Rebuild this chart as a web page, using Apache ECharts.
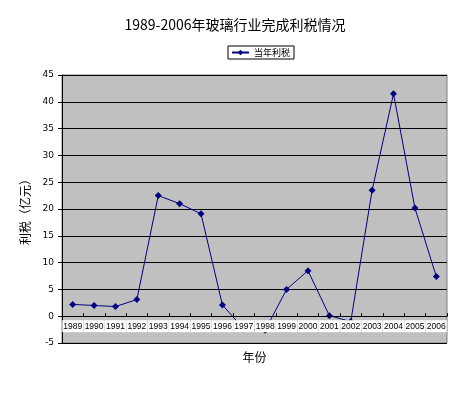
<!DOCTYPE html>
<html><head><meta charset="utf-8">
<script src="https://cdn.jsdelivr.net/npm/echarts@6/dist/echarts.min.js"></script>
<style>html,body{margin:0;padding:0;background:#fff}#c{width:470px;height:395px}</style>
</head><body><div id="c"></div>
<script>
var years = ['1989','1990','1991','1992','1993','1994','1995','1996','1997','1998','1999','2000','2001','2002','2003','2004','2005','2006'];
var profitTax = [2.2, 2.0, 1.8, 3.1, 22.5, 21.0, 19.1, 2.1, -2.4, -2.6, 5.0, 8.5, 0.1, -1.0, 23.5, 41.5, 20.2, 7.4];
var yTicks = [-5, 45, 5];
var titleText = '1989-2006年玻璃行业完成利税情况';
var seriesName = '当年利税';
var yName = '利税（亿元）';
var xName = '年份';

var chart = echarts.init(document.getElementById('c'), null, {renderer:'canvas'});
var fontCJK = '"Noto Sans CJK SC", "DejaVu Sans", sans-serif';
var option = {
  animation: false,
  title: {text: titleText, left: 'center', top: 13,
    textStyle: {fontSize: 14, fontWeight: 'normal', color: '#000', fontFamily: fontCJK}},
  legend: {data: [seriesName], top: 46, left: 228, borderColor: '#000', borderWidth: 1,
    padding: [2, 4, 2, 3], itemWidth: 17, itemHeight: 7, itemGap: 4,
    textStyle: {fontSize: 9, color: '#000', fontFamily: fontCJK}},
  grid: {left: 62, right: 23, top: 75, bottom: 52, show: true,
    backgroundColor: '#c0c0c0', borderColor: '#808080', borderWidth: 1},
  xAxis: {type: 'category', data: years, boundaryGap: true, z: 5,
    name: xName, nameLocation: 'middle', nameGap: 35, offset: 0,
    nameTextStyle: {fontSize: 12, color: '#000', fontFamily: fontCJK},
    axisLine: {onZero: false, lineStyle: {color: '#000', width: 1}},
    axisTick: {show: true, inside: true, length: 3, lineStyle: {color: '#000'}},
    axisLabel: {interval: 0, fontSize: 8.5, color: '#000', margin: 4, hideOverlap: false,
      backgroundColor: '#fff', padding: [2, 1, 1, 1], fontFamily: '"Liberation Sans", sans-serif'},
    splitLine: {show: false}},
  yAxis: {type: 'value', min: yTicks[0], max: yTicks[1], interval: yTicks[2],
    name: yName, nameLocation: 'middle', nameGap: 24, nameRotate: 90,
    nameTextStyle: {fontSize: 12, color: '#000', fontFamily: fontCJK},
    axisLine: {show: true, lineStyle: {color: '#000'}},
    axisTick: {show: true, length: 4, lineStyle: {color: '#000'}},
    axisLabel: {fontSize: 9, color: '#000', margin: 8, fontFamily: '"DejaVu Sans", sans-serif'},
    splitLine: {show: true, lineStyle: {color: '#000', width: 1}}},
  series: [{name: seriesName, type: 'line', data: profitTax,
    symbol: 'diamond', symbolSize: 7, clip: true,
    lineStyle: {color: '#000080', width: 1},
    itemStyle: {color: '#000080'}}]
};
chart.setOption(option);
// place the category axis at y = 0, through the library's own scale
var zeroY = chart.convertToPixel({yAxisIndex: 0}, 0);
var bottomY = chart.convertToPixel({yAxisIndex: 0}, yTicks[0]);
chart.setOption({xAxis: {offset: zeroY - bottomY}});
</script></body></html>
